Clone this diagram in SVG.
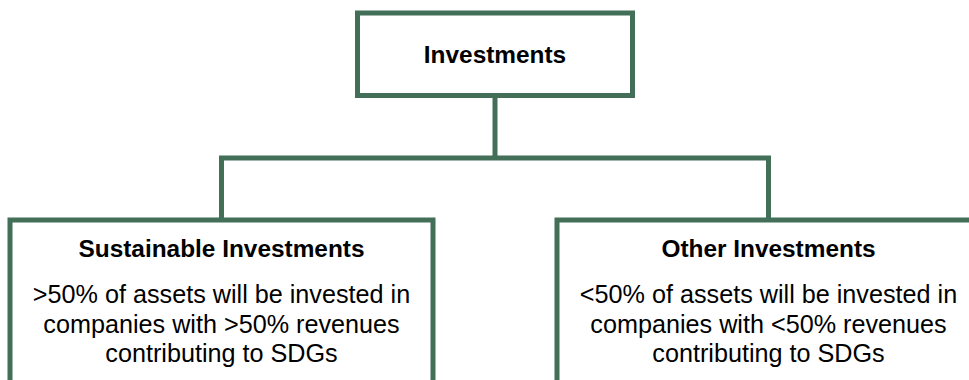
<svg xmlns="http://www.w3.org/2000/svg" width="969" height="380" viewBox="0 0 969 380">
  <style>
    .box { fill: #ffffff; stroke: #436e57; stroke-width: 5; stroke-linejoin: miter; }
    .conn { fill: none; stroke: #436e57; stroke-width: 5; stroke-linejoin: miter; }
    .title { font-family: "Liberation Sans", Arial, sans-serif; font-weight: bold; font-size: 24.4px; fill: #000000; text-anchor: middle; }
    .body { font-family: "Liberation Sans", Arial, sans-serif; font-size: 25.2px; fill: #000000; text-anchor: middle; }
  </style>
  <rect width="969" height="380" fill="#ffffff"/>
  <g id="connectors">
    <path class="conn" d="M495,96 V158"/>
    <path class="conn" d="M221.5,220 V158 H768.5 V220"/>
  </g>
  <g id="investments">
    <rect class="box" x="357.5" y="13" width="275" height="82.5"/>
    <text class="title" x="495" y="63.3">Investments</text>
  </g>
  <g id="sustainable">
    <rect class="box" x="10" y="220" width="423" height="200"/>
    <text class="title" x="221.5" y="256.7">Sustainable Investments</text>
    <text class="body" x="221.5" y="302.7">&gt;50% of assets will be invested in</text>
    <text class="body" x="221.5" y="332.7">companies with &gt;50% revenues</text>
    <text class="body" x="221.5" y="361.7">contributing to SDGs</text>
  </g>
  <g id="other">
    <rect class="box" x="557" y="220" width="423" height="200"/>
    <text class="title" x="768.5" y="256.7">Other Investments</text>
    <text class="body" x="768.5" y="302.7">&lt;50% of assets will be invested in</text>
    <text class="body" x="768.5" y="332.7">companies with &lt;50% revenues</text>
    <text class="body" x="768.5" y="361.7">contributing to SDGs</text>
  </g>
</svg>
